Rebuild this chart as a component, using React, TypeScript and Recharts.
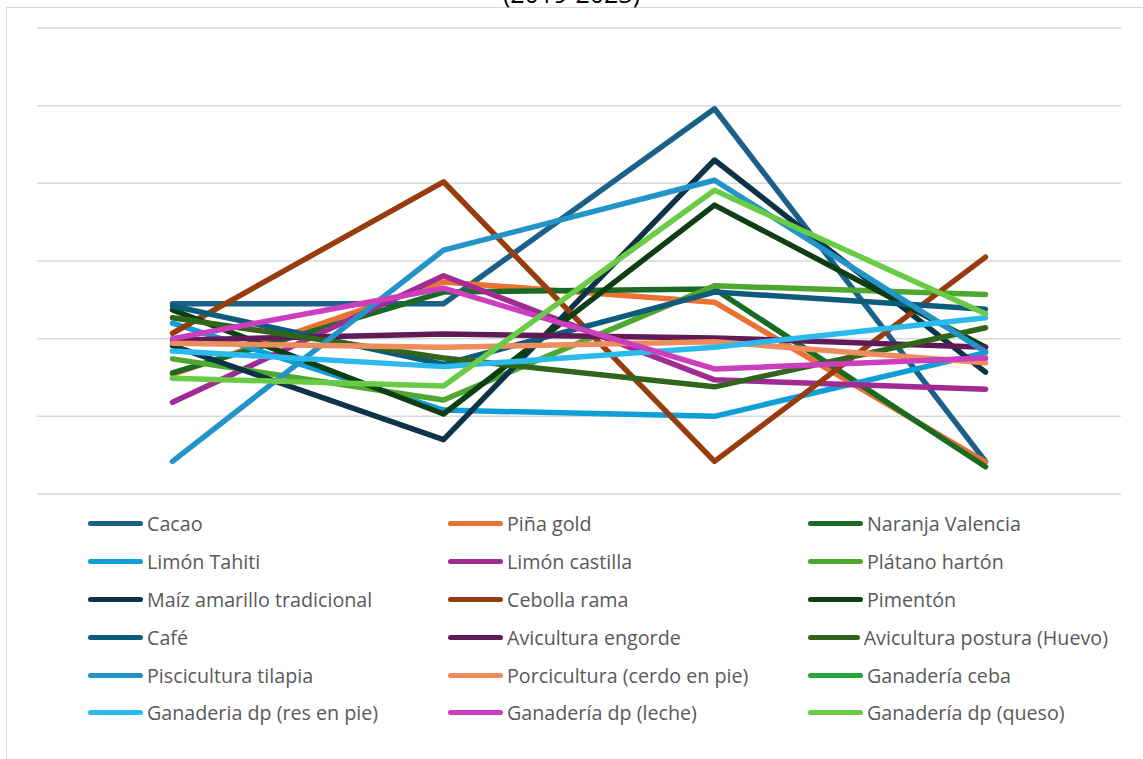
import { LineChart, Line, XAxis, YAxis, CartesianGrid } from 'recharts';

// periodos (eje X oculto en el original)
const periodos = ['2019-2020', '2020-2021', '2021-2022', '2022-2023'];

// valores (escala relativa, sin etiquetas en el eje)
const cacao = [24.5, 24.5, 49.6, 4.2];
const pinaGold = [15.4, 27.3, 24.7, 4.1];
const naranjaValencia = [15.6, 26.0, 26.4, 3.5];
const limonTahiti = [22.0, 10.8, 10.0, 18.2];
const limonCastilla = [11.8, 28.1, 14.7, 13.5];
const platanoHarton = [17.4, 12.1, 26.8, 25.7];
const maizAmarillo = [19.1, 7.0, 43.0, 15.7];
const cebollaRama = [20.7, 40.2, 4.2, 30.5];
const pimenton = [23.7, 10.3, 37.2, 18.9];
const cafe = [24.2, 16.7, 26.0, 23.8];
const aviculturaEngorde = [19.8, 20.6, 20.1, 18.9];
const aviculturaPostura = [22.7, 17.5, 13.8, 21.4];
const piscicultura = [4.2, 31.4, 40.4, 18.3];
const porcicultura = [19.4, 18.9, 19.6, 16.9];
const ganaderiaCeba: (number | null)[] = [null, null, null, null];
const resEnPie = [18.4, 16.4, 18.9, 22.7];
const leche = [20.0, 26.5, 16.1, 17.5];
const queso = [14.9, 13.9, 39.1, 23.2];

const yTicks = [0, 10, 20, 30, 40, 50, 60];

const series = [
  { key: 'Cacao', values: cacao, color: '#1a6089' },
  { key: 'Piña gold', values: pinaGold, color: '#e97132' },
  { key: 'Naranja Valencia', values: naranjaValencia, color: '#196b24' },
  { key: 'Limón Tahiti', values: limonTahiti, color: '#0f9ed5' },
  { key: 'Limón castilla', values: limonCastilla, color: '#a02b93' },
  { key: 'Plátano hartón', values: platanoHarton, color: '#4ea72e' },
  { key: 'Maíz amarillo tradicional', values: maizAmarillo, color: '#0c3446' },
  { key: 'Cebolla rama', values: cebollaRama, color: '#973c0e' },
  { key: 'Pimentón', values: pimenton, color: '#0f3e14' },
  { key: 'Café', values: cafe, color: '#0e5c7c' },
  { key: 'Avicultura engorde', values: aviculturaEngorde, color: '#601a58' },
  { key: 'Avicultura postura (Huevo)', values: aviculturaPostura, color: '#2f661c' },
  { key: 'Piscicultura tilapia', values: piscicultura, color: '#2394c7' },
  { key: 'Porcicultura (cerdo en pie)', values: porcicultura, color: '#ed8c5c' },
  { key: 'Ganadería ceba', values: ganaderiaCeba, color: '#26a33a' },
  { key: 'Ganaderia dp (res en pie)', values: resEnPie, color: '#2cbaec' },
  { key: 'Ganadería dp (leche)', values: leche, color: '#cd3ebe' },
  { key: 'Ganadería dp (queso)', values: queso, color: '#6acb47' },
];

const data = periodos.map((p, i) => {
  const row: Record<string, string | number | null> = { periodo: p };
  series.forEach((s) => {
    row[s.key] = s.values[i];
  });
  return row;
});

const font = '"Open Sans", "Liberation Sans", sans-serif';

export default function App() {
  return (
    <div
      style={{
        position: 'absolute',
        left: 0,
        top: 0,
        width: 1143,
        height: 759,
        overflow: 'hidden',
        background: '#fff',
        fontFamily: font,
      }}
    >
      <div
        style={{
          position: 'absolute',
          left: 6,
          top: 7,
          width: 1150,
          height: 800,
          border: '1px solid #d9d9d9',
        }}
      />
      <div
        style={{
          position: 'absolute',
          left: 0,
          width: 1143,
          top: -22,
          textAlign: 'center',
          fontSize: 25,
          lineHeight: '30px',
          color: '#000',
        }}
      >
        (2019-2023)
      </div>
      <div style={{ position: 'absolute', left: 0, top: 0 }}>
        <LineChart
          width={1143}
          height={759}
          data={data}
          margin={{ top: 28, right: 22, bottom: 265, left: 37 }}
        >
          <CartesianGrid vertical={false} stroke="#d9d9d9" strokeWidth={1.5} />
          <XAxis dataKey="periodo" hide padding={{ left: 135.5, right: 135.5 }} />
          <YAxis hide domain={[0, 60]} ticks={yTicks} />
          {series.map((s) => (
            <Line
              key={s.key}
              type="linear"
              dataKey={s.key}
              stroke={s.color}
              strokeWidth={5.5}
              strokeLinecap="round"
              strokeLinejoin="round"
              dot={false}
              activeDot={false}
              isAnimationActive={false}
            />
          ))}
        </LineChart>
      </div>
      <div
        style={{
          position: 'absolute',
          left: 88,
          top: 505,
          display: 'grid',
          gridTemplateColumns: '360px 360px 300px',
          rowGap: 0,
        }}
      >
        {series.map((s) => (
          <div
            key={s.key}
            style={{
              display: 'flex',
              alignItems: 'center',
              height: 37.8,
              fontSize: 19.7,
              color: '#595959',
              whiteSpace: 'nowrap',
            }}
          >
            <span
              style={{
                display: 'inline-block',
                width: 55,
                height: 5,
                borderRadius: 3,
                background: s.color,
                marginRight: 4,
              }}
            />
            {s.key}
          </div>
        ))}
      </div>
    </div>
  );
}
